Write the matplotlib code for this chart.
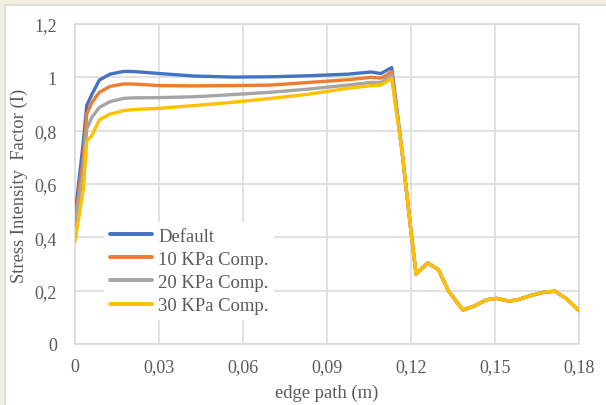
import matplotlib
matplotlib.use("Agg")
import matplotlib.pyplot as plt
from matplotlib.patches import Rectangle

# ---- data ----
x = [0, 0.003, 0.0042, 0.006, 0.0087, 0.0125, 0.0173, 0.0208, 0.0304, 0.0423,
     0.056, 0.0699, 0.0836, 0.0975, 0.1058, 0.1092, 0.1113, 0.1131,
     0.1167, 0.1199, 0.1218, 0.126, 0.1298, 0.1333, 0.1385, 0.1423, 0.147,
     0.1506, 0.1548, 0.1578, 0.1625, 0.1673, 0.1714, 0.1756, 0.18]

tail = [0.731, 0.431, 0.262, 0.304, 0.279, 0.200, 0.1275, 0.141, 0.166,
        0.171, 0.161, 0.165, 0.181, 0.194, 0.198, 0.169, 0.125]

default = [0.48, 0.76, 0.895, 0.935, 0.99, 1.012, 1.022, 1.022, 1.014, 1.005,
           1.001, 1.002, 1.006, 1.012, 1.02, 1.014, 1.026, 1.037] + tail
kpa10 = [0.46, 0.70, 0.862, 0.905, 0.944, 0.966, 0.975, 0.975, 0.969, 0.968,
         0.969, 0.971, 0.981, 0.991, 1.0, 0.997, 1.008, 1.022] + tail
kpa20 = [0.44, 0.65, 0.806, 0.85, 0.887, 0.909, 0.921, 0.923, 0.924, 0.927,
         0.935, 0.944, 0.956, 0.971, 0.981, 0.981, 0.995, 1.009] + tail
kpa30 = [0.384, 0.581, 0.762, 0.781, 0.841, 0.862, 0.875, 0.879, 0.884, 0.894,
         0.906, 0.921, 0.937, 0.959, 0.969, 0.971, 0.984, 0.996] + tail

series_names = ["Default", "10 KPa Comp.", "20 KPa Comp.", "30 KPa Comp."]
series_colors = ["#4472C4", "#ED7D31", "#A5A5A5", "#FFC000"]

xticks = [0, 0.03, 0.06, 0.09, 0.12, 0.15, 0.18]
xticklabels = ["0", "0,03", "0,06", "0,09", "0,12", "0,15", "0,18"]
yticks = [0, 0.2, 0.4, 0.6, 0.8, 1.0, 1.2]
yticklabels = ["0", "0,2", "0,4", "0,6", "0,8", "1", "1,2"]

# ---- figure ----
plt.rcParams['font.family'] = ['Liberation Serif', 'DejaVu Serif']
text_color = "#595959"
grid_color = "#D9D9D9"

fig = plt.figure(figsize=(6.06, 4.06), dpi=100, facecolor="#F2F0DF")
bg = Rectangle((4.5 / 606, -0.1), 2, (406 - 5.5) / 406 + 0.1,
               transform=fig.transFigure, facecolor="white",
               edgecolor=grid_color, lw=1.2, zorder=-10)
fig.patches.append(bg)

ax = fig.add_axes([75 / 606, 61 / 406, 504 / 606, 320 / 406])
ax.set_zorder(1)
ax.set_facecolor("white")

for vals, name, col in zip([default, kpa10, kpa20, kpa30], series_names, series_colors):
    ax.plot(x, vals, color=col, lw=2.4, label=name, solid_joinstyle="round",
            solid_capstyle="round", zorder=3)

ax.set_xlim(0, 0.18)
ax.set_ylim(0, 1.2)
ax.set_xticks(xticks)
ax.set_xticklabels(xticklabels)
ax.set_yticks(yticks)
ax.set_yticklabels(yticklabels)
ax.tick_params(axis="both", length=0, labelsize=13, labelcolor=text_color)
ax.tick_params(axis="y", pad=13)
ax.tick_params(axis="x", pad=10)
ax.grid(True, color=grid_color, lw=1.1, zorder=0)
ax.set_axisbelow(True)
for sp in ax.spines.values():
    sp.set_color(grid_color)
    sp.set_linewidth(1.1)

fig.text(19 / 606, (406 - 186) / 406, "Stress Intensity  Factor (I)", rotation=90,
         ha="center", va="center", fontsize=13.4, color=text_color)
fig.text(327 / 606, 13 / 406, "edge path (m)", ha="center", va="center",
         fontsize=13.4, color=text_color)

leg = ax.legend(loc="upper left", bbox_to_anchor=((104 - 75) / 504, (345 - 223) / 320),
                frameon=True, fancybox=False, framealpha=1, edgecolor="none",
                facecolor="white", fontsize=13.4, handlelength=2.3, handletextpad=0.3,
                labelspacing=0.33, borderpad=0.3, borderaxespad=0)
for t in leg.get_texts():
    t.set_color(text_color)
for l in leg.get_lines():
    l.set_linewidth(2.8)

fig.savefig("out.png", dpi=100, facecolor=fig.get_facecolor())
